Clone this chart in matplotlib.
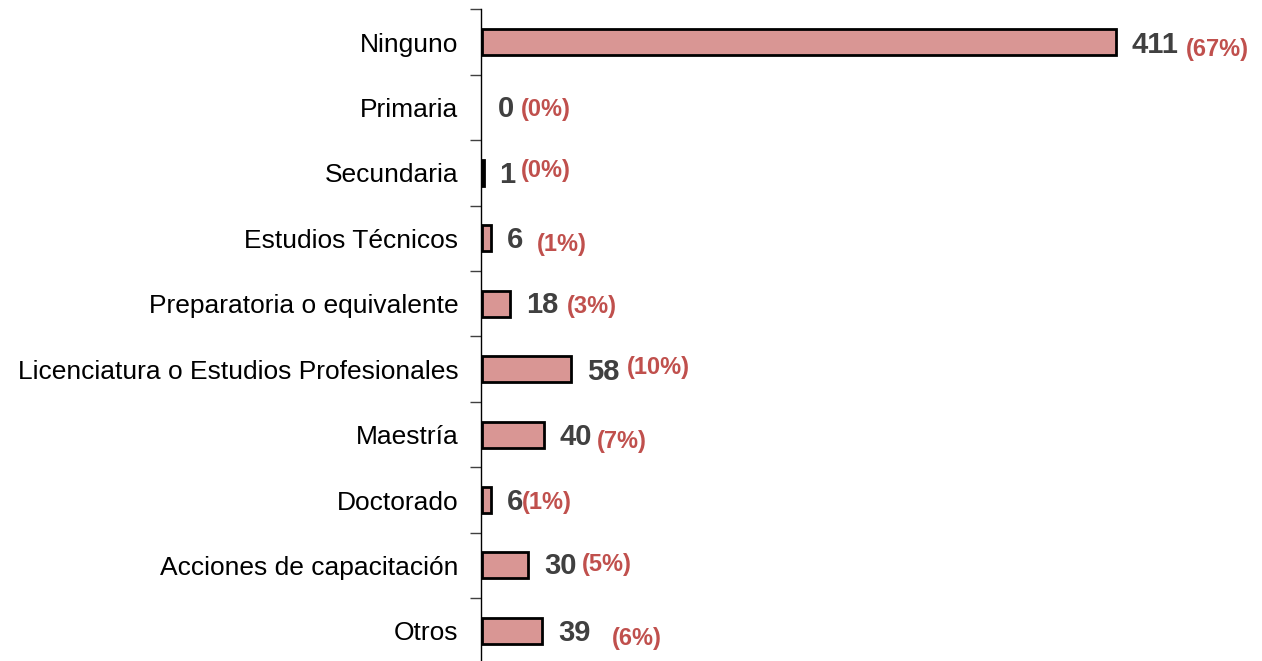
#!/usr/bin/env python3
# -*- coding: utf-8 -*-

import numpy as np
import matplotlib
matplotlib.use('Agg')
import matplotlib.pyplot as plt

plt.rcParams['font.family'] = ['Liberation Sans', 'DejaVu Sans']

# datos
categorias = ['Ninguno', 'Primaria', 'Secundaria', 'Estudios Técnicos',
              'Preparatoria o equivalente', 'Licenciatura o Estudios Profesionales',
              'Maestría', 'Doctorado', 'Acciones de capacitación', 'Otros']
valores = [411, 0, 1, 6, 18, 58, 40, 6, 30, 39]
porcentajes = [67, 0, 0, 1, 3, 10, 7, 1, 5, 6]

# desplazamientos de las etiquetas de porcentaje (px desde el final de la barra, px hacia abajo)
pct_dx = [70, 39, 37, 46, 57, 55, 53, 31, 54, 70]
pct_dy = [7, 2, -2, 6, 3, -2, 7, 3, -1, 8]
val_dy = [3, 1, 2, 2, 1, 3, 2, 2, 1, 2]

color_barra = '#D99694'
color_valor = '#404040'
color_pct = '#C0504D'

fig = plt.figure(figsize=(12.62, 6.61), dpi=100)
W, H = 1262, 661
x0, x1 = 482, 1116          # pixeles para 0 y 411
top, bottom = 9.5, 663.5
ax = fig.add_axes([x0 / W, (H - bottom) / H, (x1 - x0) / W, (bottom - top) / H])

y = np.arange(len(categorias))
edges = ['black' if v > 0 else 'none' for v in valores]
barras = ax.barh(y, valores, height=0.4, color=color_barra, edgecolor=edges, linewidth=2)
for b in barras:
    b.set_clip_on(False)

ax.set_xlim(0, max(valores))
ax.set_ylim(len(categorias) - 0.5, -0.5)

px = 0.72  # pixeles -> puntos
for i, (v, p) in enumerate(zip(valores, porcentajes)):
    ax.annotate(str(v), xy=(v, i), xytext=(16 * px, -val_dy[i] * px),
                textcoords='offset points', ha='left', va='center',
                fontsize=21, fontweight='bold', color=color_valor,
                annotation_clip=False)
    ax.annotate(f'({p}%)', xy=(v, i), xytext=(pct_dx[i] * px, -pct_dy[i] * px),
                textcoords='offset points', ha='left', va='center',
                fontsize=17, fontweight='bold', color=color_pct,
                annotation_clip=False)

for s in ['top', 'right', 'bottom']:
    ax.spines[s].set_visible(False)
ax.spines['left'].set_color('black')
ax.spines['left'].set_linewidth(1)
ax.spines['left'].set_position(('outward', 1))
ax.set_xticks([])

ax.set_yticks(y)
ax.set_yticklabels(categorias, fontsize=19)
ax.tick_params(axis='y', which='major', length=0, pad=16)
ax.set_yticks(np.arange(-0.5, len(categorias)), minor=True)
ax.tick_params(axis='y', which='minor', length=8, width=1, color='#404040')

plt.savefig('out.png', dpi=100)
plt.close()
